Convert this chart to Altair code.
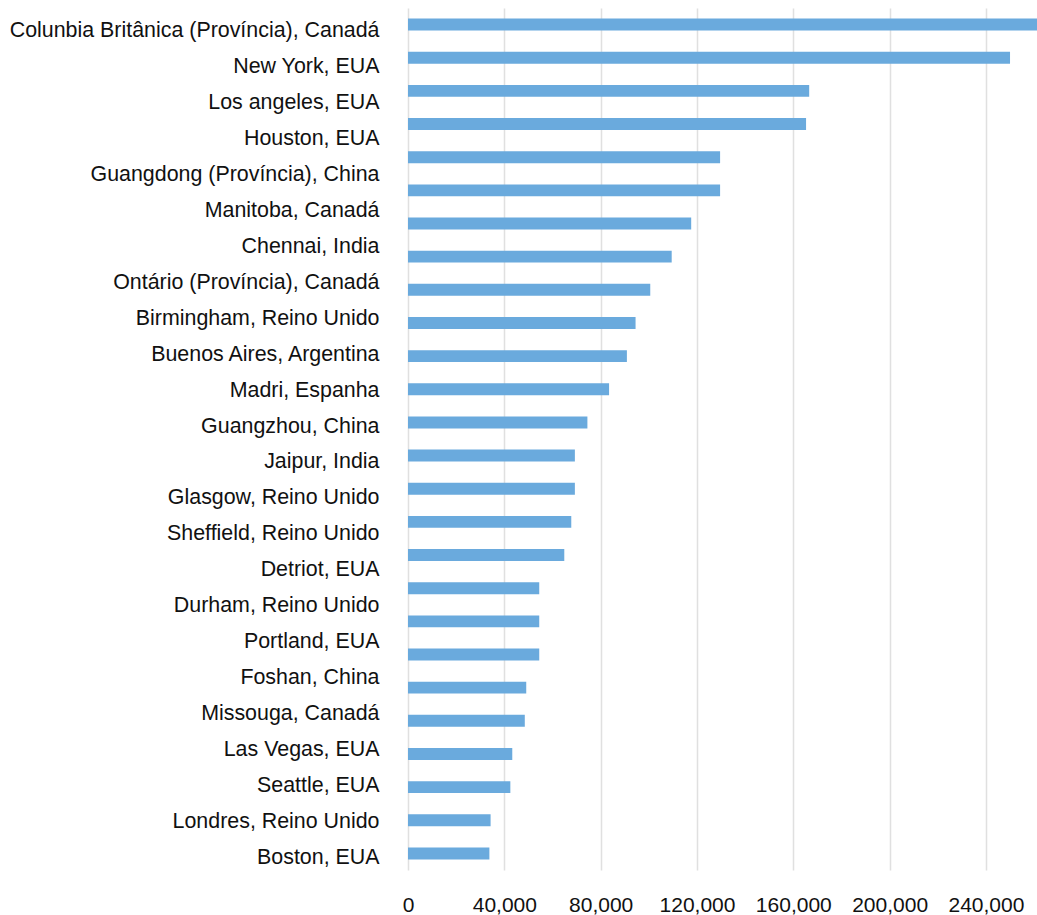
import altair as alt
import pandas as pd

# Category labels as printed on the y axis (24 labels)
labels = [
    "Colunbia Britânica (Província), Canadá",
    "New York, EUA",
    "Los angeles, EUA",
    "Houston, EUA",
    "Guangdong (Província), China",
    "Manitoba, Canadá",
    "Chennai, India",
    "Ontário (Província), Canadá",
    "Birmingham, Reino Unido",
    "Buenos Aires, Argentina",
    "Madri, Espanha",
    "Guangzhou, China",
    "Jaipur, India",
    "Glasgow, Reino Unido",
    "Sheffield, Reino Unido",
    "Detriot, EUA",
    "Durham, Reino Unido",
    "Portland, EUA",
    "Foshan, China",
    "Missouga, Canadá",
    "Las Vegas, EUA",
    "Seattle, EUA",
    "Londres, Reino Unido",
    "Boston, EUA",
]

# Bar values as drawn (26 bars, top to bottom)
values = [
    262000, 250000, 166600, 165300, 129600, 129600, 117600, 109500, 100600,
    94500, 90900, 83500, 74500, 69300, 69300, 67800, 64900, 54500, 54500,
    54500, 49100, 48500, 43300, 42500, 34300, 33800,
]

x_ticks = [0, 40000, 80000, 120000, 160000, 200000, 240000]

bars_df = pd.DataFrame({"rank": list(range(1, len(values) + 1)), "value": values})
labels_df = pd.DataFrame({"label": labels})

FONT = "Liberation Sans"

bars = alt.Chart(bars_df).mark_bar(color="#6aaadd", clip=True).encode(
    x=alt.X(
        "value:Q",
        scale=alt.Scale(domain=[0, 261200], nice=False, zero=True),
        axis=alt.Axis(
            values=x_ticks,
            format=",d",
            title=None,
            domain=False,
            ticks=False,
            tickSize=0,
            grid=True,
            gridColor="#e0e0e0",
            gridWidth=1.5,
            labelFont=FONT,
            labelFontSize=21,
            labelColor="#111111",
            labelPadding=24,
            labelFlush=False,
        ),
    ),
    y=alt.Y(
        "rank:O",
        sort="ascending",
        scale=alt.Scale(paddingInner=0.64, paddingOuter=0.32),
        axis=None,
    ),
)

label_layer = alt.Chart(labels_df).mark_point(opacity=0).encode(
    y=alt.Y(
        "label:N",
        sort=labels,
        scale=alt.Scale(paddingInner=0, paddingOuter=0),
        axis=alt.Axis(
            orient="left",
            title=None,
            domain=False,
            ticks=False,
            tickSize=0,
            grid=False,
            labelFont=FONT,
            labelFontSize=21.4,
            labelColor="#111111",
            labelPadding=29,
            labelOffset=5,
            labelLimit=600,
        ),
    ),
)

chart = (
    alt.layer(bars, label_layer)
    .resolve_scale(y="independent")
    .properties(
        width=629,
        height=862,
        autosize=alt.AutoSizeParams(type="none"),
        padding={"left": 408, "top": 8, "right": 0, "bottom": 45},
        background="white",
    )
    .configure_view(stroke="transparent")
)

chart.save("out.html", embed_options={"renderer": "svg", "actions": False})
